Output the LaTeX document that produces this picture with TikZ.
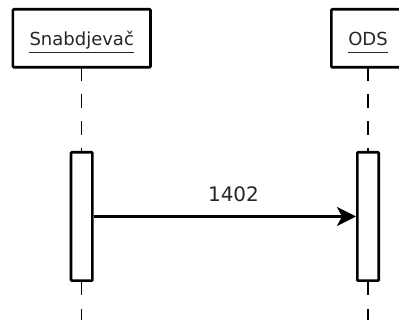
\documentclass[tikz,border=0pt]{standalone}
\usepackage{fontspec}
\setmainfont{DejaVu Sans}
\usetikzlibrary{arrows.meta}
\begin{document}
\begin{tikzpicture}[x=1pt,y=-1pt,inner sep=0pt,
actor/.style={draw,rectangle,line width=2.6pt,rounded corners=1pt,minimum height=58pt},
actlbl/.style={anchor=base,font=\fontsize{18}{20}\selectfont,text=black!85},
uline/.style={line width=1.5pt,black!85},
lifeline/.style={line width=1.1pt,dash pattern=on 13.5pt off 13.3pt},
actbox/.style={draw,rectangle,fill=white,line width=2.6pt,rounded corners=0.8pt,minimum width=21.4pt,minimum height=128.4pt},
msg/.style={line width=2.4pt,-{Stealth[length=19pt,width=19pt,inset=5pt]}}]
\clip (0,0) rectangle (399,320);
\draw (81.7,38.3) node[actor,minimum width=137.6pt] (snab) {};
\draw (376.3,38.3) node[actor,minimum width=90pt] (ods) {};
\node[actlbl] (snabtxt) at (81.7,46) {Snabdjevač};
\node[actlbl] (odstxt) at (368,46) {ODS};
% underlined names
\draw[uline] ([yshift=-6.3pt]snabtxt.base west) -- ([yshift=-6.3pt]snabtxt.base east);
\draw[uline] ([yshift=-6.3pt]odstxt.base west) -- ([yshift=-6.3pt]odstxt.base east);

\coordinate (snabtop) at (81.7,67.6);
\coordinate (odstop) at (368,67.6);
\coordinate (snabend) at (81.7,320);
\coordinate (odsend) at (368,320);
\draw[lifeline] (snabtop) -- (snabend);
\draw[lifeline] (odstop) -- (odsend);

\draw (81.7,216.5) node[actbox] (sact) {};
\draw (368,216.5) node[actbox] (oact) {};
\draw[msg] (sact.east) -- (oact.west) node[pos=0.533,yshift=22.5pt,font=\fontsize{20}{22}\selectfont,text=black!85] (m1402) {1402};
\end{tikzpicture}
\end{document}
